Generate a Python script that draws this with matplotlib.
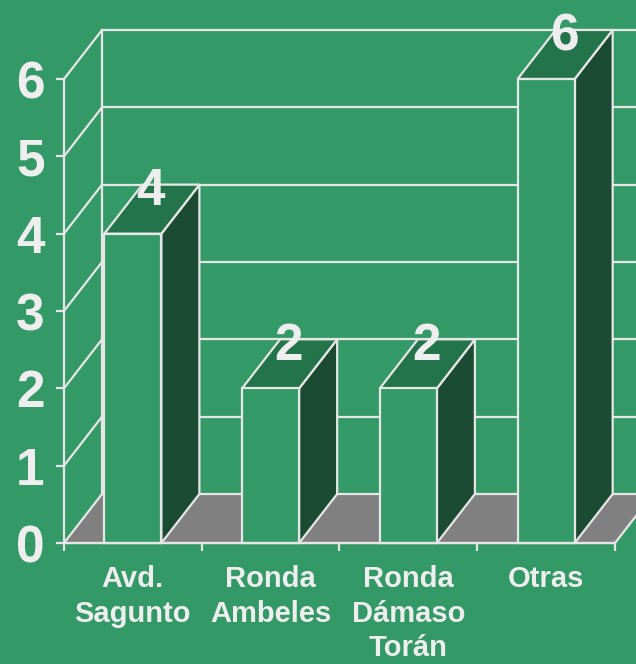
import matplotlib
matplotlib.use('Agg')
import matplotlib.pyplot as plt
from matplotlib.patches import Polygon

# data
categories = ['Avd.\nSagunto', 'Ronda\nAmbeles', 'Ronda\nDámaso\nTorán', 'Otras']
values = [4, 2, 2, 6]
yticks = [0, 1, 2, 3, 4, 5, 6]

# colours
bg = '#339966'
top_col = '#23744a'
side_col = '#1b4c33'
floor_col = '#808080'
line_col = '#e6e6e6'
text_col = '#eeeeee'

plt.rcParams['font.family'] = ['Liberation Sans', 'DejaVu Sans']
plt.rcParams['font.weight'] = 'bold'

# 3d offset in data units
depth_x = 0.276
depth_y = 0.634
bar_w = 0.414
lw = 1.6

fig = plt.figure(figsize=(6.36, 6.64), dpi=100, facecolor=bg)
ax = fig.add_axes([0.1006, 0.1822, 0.8664, 0.6988])
ax.set_facecolor('none')
ax.set_xlim(-0.5, len(values) - 0.5)
ax.set_ylim(0, 6)


def poly(pts, fc, z):
    ax.add_patch(Polygon(pts, closed=True, facecolor=fc, edgecolor=line_col,
                         lw=lw, zorder=z, clip_on=False, joinstyle='miter'))


x0, x1 = -0.5, len(values) - 0.5

# floor
poly([(x0, 0), (x1, 0), (x1 + depth_x, depth_y), (x0 + depth_x, depth_y)], floor_col, 1)

# walls
for v in yticks[1:]:
    ax.plot([x0, x0 + depth_x], [v, v + depth_y], color=line_col, lw=lw, clip_on=False, zorder=2)
    ax.plot([x0 + depth_x, x1 + depth_x], [v + depth_y, v + depth_y], color=line_col, lw=lw,
            clip_on=False, zorder=2)
ax.plot([x0 + depth_x, x0 + depth_x], [depth_y, yticks[-1] + depth_y], color=line_col, lw=lw,
        clip_on=False, zorder=2)

# bars
for i, v in enumerate(values):
    a, b = i - bar_w / 2, i + bar_w / 2
    poly([(b, 0), (b + depth_x, depth_y), (b + depth_x, v + depth_y), (b, v)], side_col, 3)
    poly([(a, v), (b, v), (b + depth_x, v + depth_y), (a + depth_x, v + depth_y)], top_col, 3)
    poly([(a, 0), (b, 0), (b, v), (a, v)], bg, 3)
    ax.text(i + 0.13, v + 0.37, str(v), ha='center', va='baseline', fontsize=37,
            fontweight='bold', color=text_col, zorder=5)

# axes
for s in ['top', 'right']:
    ax.spines[s].set_visible(False)
for s in ['left', 'bottom']:
    ax.spines[s].set_color(line_col)
    ax.spines[s].set_linewidth(lw)
    ax.spines[s].set_zorder(4)

ax.set_yticks(yticks)
ax.set_yticklabels([str(t) for t in yticks])
ax.tick_params(axis='y', colors=line_col, labelcolor=text_col, length=6, width=lw,
               pad=8, labelsize=37)

ax.set_xticks([x0 + k for k in range(len(values) + 1)])
ax.set_xticklabels([])
ax.tick_params(axis='x', which='major', colors=line_col, length=6, width=lw)
ax.set_xticks(range(len(values)), minor=True)
ax.set_xticklabels(categories, minor=True, linespacing=1.3)
ax.tick_params(axis='x', which='minor', length=0, pad=16, labelsize=21, labelcolor=text_col)

fig.savefig('out.png', dpi=100, facecolor=bg)
